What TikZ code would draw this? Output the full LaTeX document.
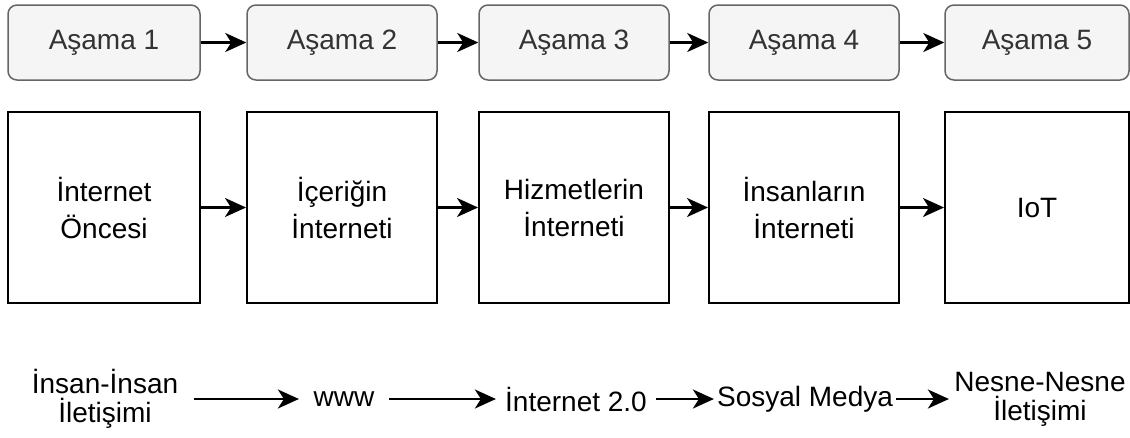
\documentclass[tikz,border=0pt]{standalone}
\usepackage{fontspec}
\setmainfont{Liberation Sans}
\usetikzlibrary{arrows.meta}
\definecolor{asamafill}{HTML}{F5F5F5}
\definecolor{asamaline}{HTML}{666666}
\definecolor{asamatext}{HTML}{333333}
\tikzset{asama/.style={draw=asamaline,fill=asamafill,text=asamatext,rounded corners=9pt,line width=1.5pt,minimum width=190pt,minimum height=75pt},
  evre/.style={draw,line width=2pt,minimum height=191pt,minimum width=190pt,align=center,font=\fontsize{28}{37}\selectfont},
  olay/.style={inner sep=0pt,align=center,minimum height=30pt,font=\fontsize{28}{29}\selectfont}}

\begin{document}
\begin{tikzpicture}[x=1pt,y=-1pt,line width=2.2pt,>={Stealth[length=21pt,width=19pt,inset=6pt]},font=\fontsize{28}{34}\selectfont]
\useasboundingbox (0,0) rectangle (1130,437);
% asamalar
\node[asama,minimum width=192pt] (a1) at (104,42.5) {Aşama 1};
\node[asama] (a2) at (342,42.5) {Aşama 2};
\node[asama] (a3) at (574,42.5) {Aşama 3};
\node[asama] (a4) at (804,42.5) {Aşama 4};
\node[asama,minimum width=184pt] (a5) at (1037,42.5) {Aşama 5};
% evreler
\node[evre,minimum width=192pt] (e1) at (104,207.5) {İnternet\\Öncesi};
\node[evre] (e2) at (342,207.5) {İçeriğin\\İnterneti};
\node[evre] (e3) at (574,207.5) {Hizmetlerin\\İnterneti};
\node[evre] (e4) at (804,207.5) {İnsanların\\İnterneti};
\node[evre,minimum width=184pt] (e5) at (1037,207.5) {IoT};
% iletisim
\node[olay,minimum width=176pt] (o1) at (105,399) {İnsan-İnsan\\İletişimi};
\node[olay,minimum width=88pt] (o2) at (344,399) {www};
\node[olay,minimum width=158pt] (o3) at (576,399) {İnternet 2.0};
\node[olay,minimum width=180pt] (o4) at (805,399) {Sosyal Medya};
\node[olay,minimum width=180pt] (o5) at (1040,399) {Nesne-Nesne\\İletişimi};
\foreach \x/\y in {1/2,2/3,3/4,4/5}{
  \draw[->] (a\x) -- (a\y);
  \draw[->] (e\x) -- (e\y);
  \draw[->] (o\x) -- (o\y);
}
\end{tikzpicture}
\end{document}
